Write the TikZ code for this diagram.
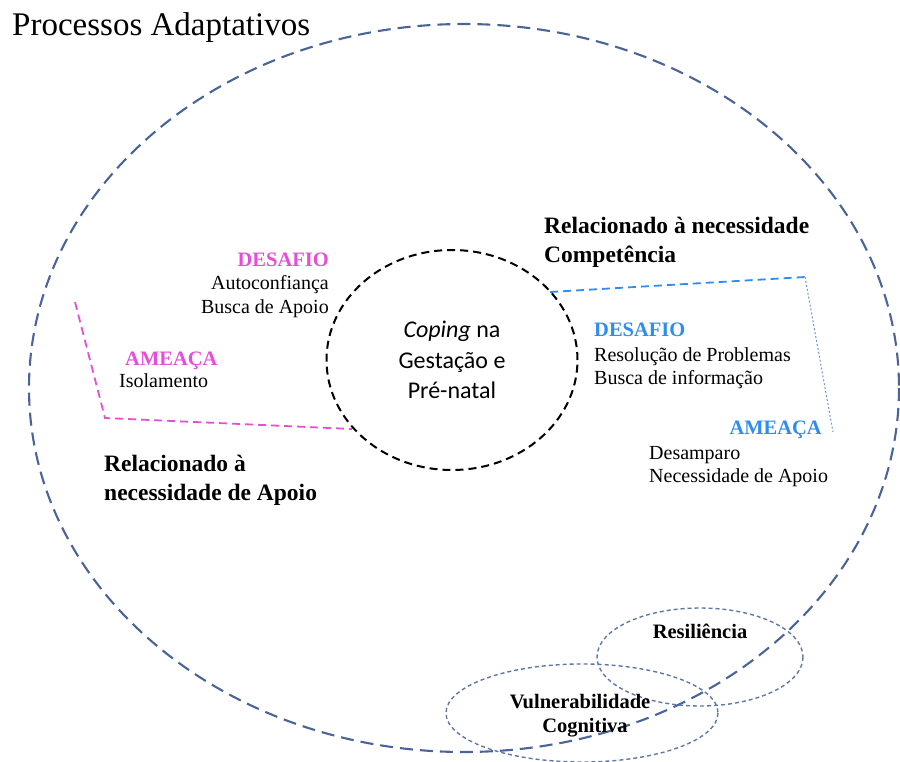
\documentclass[tikz,border=0pt]{standalone}
\usepackage{fontspec}
\setmainfont{Liberation Serif}
\newfontfamily\corpofont{Carlito}
\usetikzlibrary{shapes.geometric}
\definecolor{azulescuro}{HTML}{4A6499}
\definecolor{rosa}{HTML}{E54FD8}
\definecolor{azul}{HTML}{2E8CF2}
\definecolor{azulclaro}{HTML}{6C95D8}
\definecolor{cinzaazul}{HTML}{5F77A6}

\begin{document}
\begin{tikzpicture}[x=1pt,y=-1pt,
  texto/.style={inner sep=0pt,font=\fontsize{20}{24}\selectfont},
  titulo/.style={inner sep=0pt,font=\fontsize{23.5}{29}\selectfont\bfseries},
  rotulo/.style={inner sep=0pt,font=\fontsize{20.5}{24}\selectfont\bfseries},
  fator/.style={cinzaazul,line width=1.4pt,dash pattern=on 4pt off 3pt}]
\useasboundingbox (0,0) rectangle (900,762);

% processos adaptativos
\draw[azulescuro,line width=2.1pt,dash pattern=on 13pt off 7pt] (464,388) ellipse [x radius=435, y radius=364];
\node[inner sep=0pt,font=\fontsize{33}{36}\selectfont,anchor=base west] (processos) at (12,36) {Processos Adaptativos};

% coping
\node[draw,ellipse,line width=2pt,dash pattern=on 8pt off 5pt,minimum width=251,minimum height=220,
  align=center,font=\corpofont\fontsize{24}{30.5}\selectfont] (coping) at (452,360)
  {\textit{Coping} na\\Gesta\c{c}\~ao e\\Pr\'e-natal};

% apoio (rosa)
\coordinate (p1) at (75,302);
\coordinate (p2) at (105,418);
\coordinate (p3) at (352,429);
\draw[rosa,line width=1.8pt,dash pattern=on 8pt off 5pt] (p1) -- (p2) -- (p3);
\node[rotulo,rosa,anchor=base east] (desafioA) at (329,266) {DESAFIO};
\node[texto,anchor=base east] (autoconf) at (329,290) {Autoconfian\c{c}a};
\node[texto,anchor=base east] (buscaA) at (329,313) {Busca de Apoio};
\node[rotulo,rosa,anchor=base west] (ameacaA) at (125,365) {AMEA\c{C}A};
\node[texto,anchor=base west] (isolamento) at (119,387) {Isolamento};
\node[titulo,anchor=base west] (relA1) at (104,471) {Relacionado \`a};
\node[titulo,anchor=base west] (relA2) at (104,500) {necessidade de Apoio};

% competencia (azul)
\coordinate (c1) at (550,292);
\coordinate (c2) at (805,277);
\coordinate (c3) at (833,432);
\draw[azul,line width=1.8pt,dash pattern=on 8pt off 5pt] (c1) -- (c2);
\draw[azulclaro,line width=1pt,dash pattern=on 2pt off 2pt] (c2) -- (c3);
\node[titulo,anchor=base west] (relC1) at (544,234) {Relacionado \`a necessidade};
\node[titulo,anchor=base west] (relC2) at (544,263) {Compet\^encia};
\node[rotulo,azul,anchor=base west] (desafioC) at (594,336) {DESAFIO};
\node[texto,anchor=base west] (resolucao) at (594,361) {Resolu\c{c}\~ao de Problemas};
\node[texto,anchor=base west] (buscaC) at (594,384) {Busca de informa\c{c}\~ao};
\node[rotulo,azul,anchor=base east] (ameacaC) at (822,434) {AMEA\c{C}A};
\node[texto,anchor=base west] (desamparo) at (649,459) {Desamparo};
\node[texto,anchor=base west] (necessidade) at (649,482) {Necessidade de Apoio};

% resiliencia e vulnerabilidade
\draw[fator] (700,657) ellipse [x radius=103, y radius=49];
\draw[fator] (582,713) ellipse [x radius=136, y radius=49];
\node[rotulo,anchor=base] (resiliencia) at (700,638) {Resili\^encia};
\node[rotulo,anchor=base] (vulner) at (580,708) {Vulnerabilidade};
\node[rotulo,anchor=base] (cognitiva) at (585,732) {Cognitiva};
\end{tikzpicture}
\end{document}
